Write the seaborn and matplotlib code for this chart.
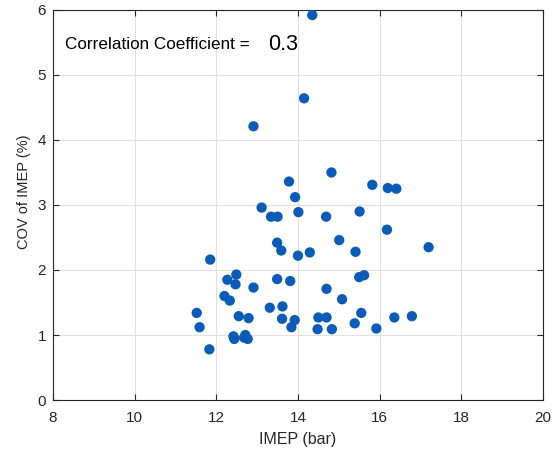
import matplotlib
matplotlib.use("Agg")
import matplotlib.pyplot as plt
import seaborn as sns
import pandas as pd

imep = [14.35, 14.15, 12.91, 14.82, 13.78, 15.82, 16.20, 16.41, 13.93, 13.11,
        13.34, 13.50, 14.01, 14.69, 15.51, 16.18, 13.49, 13.59, 15.01, 14.29,
        14.00, 15.41, 11.85, 17.20, 12.49, 12.27, 12.47, 13.49, 13.81, 12.91,
        14.70, 15.50, 15.62, 12.20, 12.33, 15.08, 13.31, 13.62, 11.52, 12.55,
        12.79, 13.61, 13.92, 14.50, 14.70, 15.55, 15.39, 16.36, 16.79, 11.59,
        13.84, 14.48, 14.83, 15.92, 12.42, 12.44, 12.71, 12.68, 12.77, 11.83]
cov = [5.92, 4.64, 4.21, 3.50, 3.36, 3.31, 3.26, 3.25, 3.12, 2.96,
       2.82, 2.82, 2.89, 2.82, 2.90, 2.62, 2.42, 2.30, 2.46, 2.27,
       2.22, 2.28, 2.16, 2.35, 1.93, 1.85, 1.78, 1.86, 1.83, 1.73,
       1.71, 1.89, 1.92, 1.60, 1.53, 1.55, 1.42, 1.44, 1.34, 1.29,
       1.26, 1.25, 1.23, 1.27, 1.27, 1.34, 1.18, 1.27, 1.29, 1.12,
       1.12, 1.09, 1.09, 1.10, 0.98, 0.94, 1.00, 0.96, 0.94, 0.78]
x_ticks = [8, 10, 12, 14, 16, 18, 20]
y_ticks = [0, 1, 2, 3, 4, 5, 6]
corr_label = "Correlation Coefficient = "
corr_value = "0.3"

df = pd.DataFrame({"IMEP": imep, "COV": cov})

sns.set_theme(style="whitegrid")
plt.rcParams['font.family'] = ['Liberation Sans', 'DejaVu Sans']
plt.rcParams['xtick.major.size'] = 4
plt.rcParams['ytick.major.size'] = 4

fig = plt.figure(figsize=(5.58, 4.49), dpi=100)
ax = fig.add_axes([0.095, 0.109, 0.878, 0.869])

sns.scatterplot(data=df, x="IMEP", y="COV", ax=ax, color="#0a5cb8",
                s=55, edgecolor="none", zorder=3)

ax.set_xlim(8, 20)
ax.set_ylim(0, 6)
ax.set_xticks(x_ticks)
ax.set_yticks(y_ticks)
ax.set_xlabel("IMEP (bar)", fontsize=11.5, color="#262626", labelpad=5)
ax.set_ylabel("COV of IMEP (%)", fontsize=10.5, color="#262626")
ax.yaxis.set_label_coords(-0.045, 0.535)
ax.tick_params(axis="both", direction="in", length=4, width=0.8,
               colors="#262626", labelsize=11, top=True, right=True,
               bottom=True, left=True, labeltop=False, labelright=False)
ax.tick_params(axis="x", pad=8)
ax.tick_params(axis="y", pad=5)
ax.grid(True, color="#e0e0e0", linewidth=0.8)
for sp in ax.spines.values():
    sp.set_visible(True)
    sp.set_color("#262626")
    sp.set_linewidth(0.8)

ax.text(0.025, 0.91, corr_label, transform=ax.transAxes, fontsize=12.3,
        color="black", va="center", ha="left")
ax.text(0.440, 0.91, corr_value, transform=ax.transAxes, fontsize=15.5,
        color="black", va="center", ha="left")

fig.savefig("out.png", dpi=100)
